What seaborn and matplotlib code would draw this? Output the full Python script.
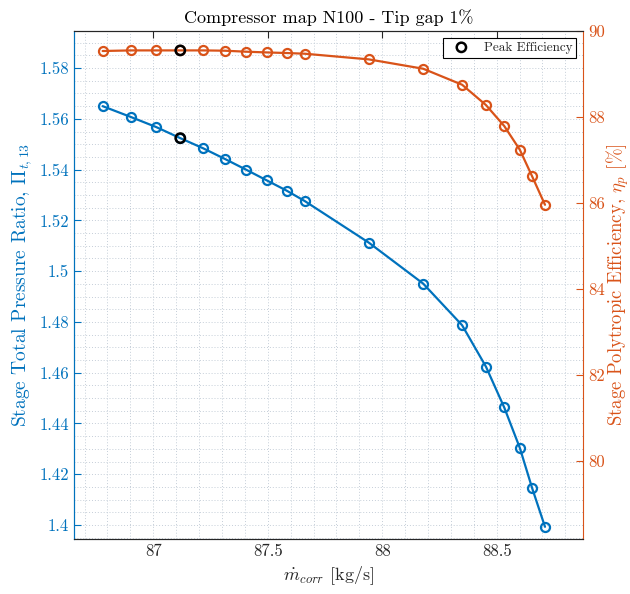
import numpy as np
import pandas as pd
import seaborn as sns
import matplotlib
matplotlib.use("Agg")
import matplotlib.pyplot as plt
from matplotlib.ticker import MultipleLocator

# ---- data ----
mass_flow = [86.779, 86.903, 87.012, 87.118, 87.218, 87.313, 87.405, 87.495, 87.583,
             87.662, 87.942, 88.179, 88.349, 88.453, 88.533, 88.601, 88.655, 88.711]
pressure_ratio = [1.5650, 1.5607, 1.5568, 1.5524, 1.5484, 1.5442, 1.5400, 1.5358, 1.5317,
                  1.5276, 1.5112, 1.4951, 1.4787, 1.4624, 1.4463, 1.4304, 1.4145, 1.3993]
efficiency = [89.535, 89.549, 89.549, 89.549, 89.549, 89.542, 89.519, 89.502, 89.488,
              89.472, 89.340, 89.123, 88.751, 88.279, 87.791, 87.240, 86.619, 85.960]
peak_index = 3

x_ticks = [87, 87.5, 88, 88.5]
left_ticks = [1.4, 1.42, 1.44, 1.46, 1.48, 1.5, 1.52, 1.54, 1.56, 1.58]
left_ticklabels = ["1.4", "1.42", "1.44", "1.46", "1.48", "1.5", "1.52", "1.54", "1.56", "1.58"]
right_ticks = [80, 82, 84, 86, 88, 90]

BLUE = "#0072BD"
ORANGE = "#D95319"

sns.set_style("white")
plt.rcParams["font.family"] = ["cmr10", "DejaVu Serif"]
plt.rcParams["mathtext.fontset"] = "cm"
plt.rcParams["axes.formatter.use_mathtext"] = True
plt.rcParams["axes.unicode_minus"] = False

df = pd.DataFrame({"m": mass_flow, "pr": pressure_ratio, "eta": efficiency})
peak = df.iloc[[peak_index]]

fig = plt.figure(figsize=(6.30, 5.94), dpi=100)
ax = fig.add_axes([0.1175, 0.0926, 0.8079, 0.8552])
ax2 = ax.twinx()

line_kw = dict(linewidth=1.6, marker="o", markersize=6.5, markerfacecolor="none",
               markeredgewidth=1.6)
sns.lineplot(data=df, x="m", y="pr", ax=ax, color=BLUE, markeredgecolor=BLUE,
             sort=False, **line_kw)
sns.lineplot(data=df, x="m", y="eta", ax=ax2, color=ORANGE, markeredgecolor=ORANGE,
             sort=False, **line_kw)

sns.scatterplot(data=peak, x="m", y="pr", ax=ax, s=45, facecolor="none",
                edgecolor="black", linewidth=1.8, zorder=5)
sns.scatterplot(data=peak, x="m", y="eta", ax=ax2, s=45, facecolor="none",
                edgecolor="black", linewidth=1.8, zorder=5, label="Peak Efficiency")

ax.set_xlim(86.654, 88.877)
ax.set_ylim(1.3945, 1.5946)
ax2.set_ylim(78.19, 90.0)

ax.set_xticks(x_ticks)
ax.set_xticklabels([f"{t:g}" for t in x_ticks])
ax.set_yticks(left_ticks)
ax.set_yticklabels(left_ticklabels)
ax2.set_yticks(right_ticks)
ax2.set_yticklabels([str(t) for t in right_ticks])

ax.xaxis.set_minor_locator(MultipleLocator(0.1))
ax.yaxis.set_minor_locator(MultipleLocator(0.005))
ax.grid(True, which="both", linestyle=(0, (1, 2)), color="#c5ced8", linewidth=0.7)
ax.set_axisbelow(True)
ax2.grid(False)

ax.tick_params(axis="both", which="minor", length=0)
ax.tick_params(axis="x", direction="in", top=True, length=5, labelsize=12,
               colors="#262626", width=0.8)
ax.tick_params(axis="y", direction="in", length=5, labelsize=12, colors=BLUE, width=0.8)
ax2.tick_params(axis="y", direction="in", length=5, labelsize=12, colors=ORANGE, width=0.8)

for s in ["top", "bottom"]:
    ax.spines[s].set_color("#262626")
    ax2.spines[s].set_color("#262626")
ax2.spines["left"].set_color(BLUE)
ax2.spines["right"].set_color(ORANGE)
ax.spines["left"].set_color(BLUE)
ax.spines["right"].set_visible(False)
for sp in list(ax.spines.values()) + list(ax2.spines.values()):
    sp.set_linewidth(0.8)

ax.set_xlabel(r"$\dot{m}_{corr}$ [kg/s]", fontsize=13, color="#262626")
ax.set_ylabel(r"Stage Total Pressure Ratio, $\Pi_{t,13}$", fontsize=14, color=BLUE,
              labelpad=4)
ax2.set_ylabel(r"Stage Polytropic Efficiency, $\eta_p$ [%]", fontsize=13.5, color=ORANGE,
               va="center")
ax2.yaxis.set_label_coords(1.068, 0.5)
ax.set_title("Compressor map N100 - Tip gap 1%", fontsize=13, color="black", pad=6)

leg = ax2.legend(loc="upper right", fontsize=9.5, frameon=True, fancybox=False,
                 edgecolor="black", framealpha=1, borderpad=0.3, handletextpad=0.6,
                 borderaxespad=0.5, handlelength=2.2)
leg.get_frame().set_linewidth(0.8)

fig.savefig("out.png", dpi=100)
